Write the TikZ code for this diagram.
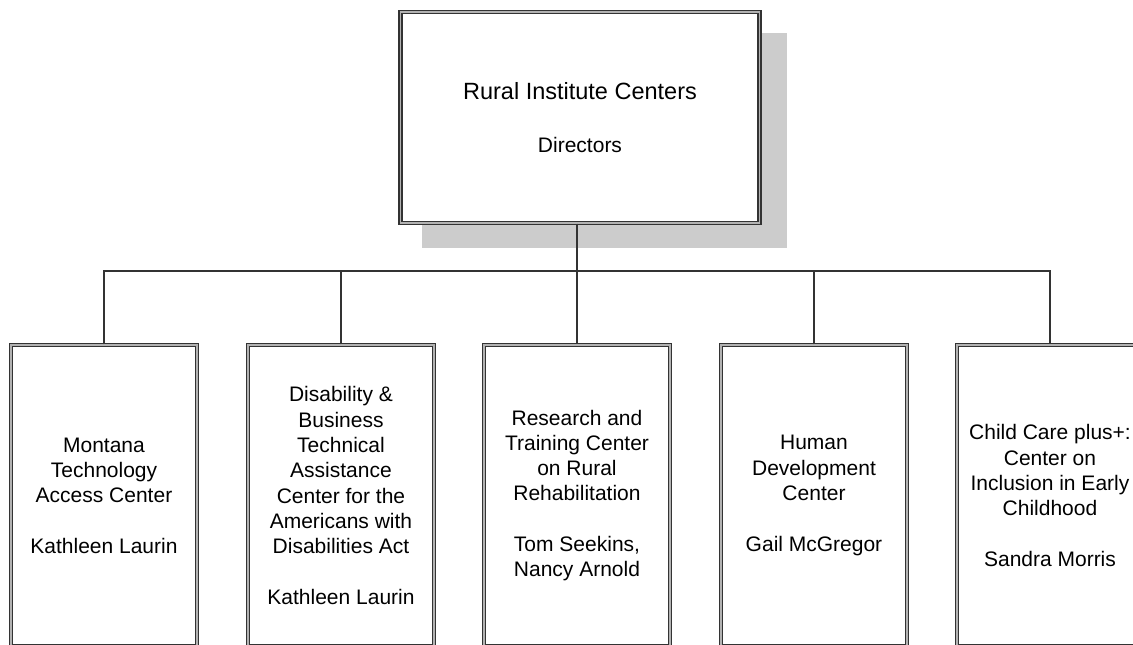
\documentclass[tikz,border=0pt]{standalone}
\usepackage{fontspec}
\setmainfont{Liberation Sans}
\usetikzlibrary{positioning}

\begin{document}
\begin{tikzpicture}[x=1pt,y=-1pt,
  box/.style={draw=black!80,line width=1.3pt,double=black!30,double distance=1.5pt,fill=white,
    minimum width=186pt,minimum height=301pt,inner sep=0pt,align=center,
    font=\fontsize{21}{25.3}\selectfont},
  topbox/.style={box,minimum width=359pt,minimum height=211pt},
  shade/.style={fill=black!20},
  link/.style={draw=black!80,line width=1.4pt}
]
  \useasboundingbox (0,0) rectangle (1133,645);
  \clip (0,0) rectangle (1133,645);

  % Directors
  \fill[shade] (422,33) rectangle (787,248);
  \node[topbox] (rural) at (580,117.5) {{\fontsize{23.5}{25.3}\selectfont Rural Institute Centers}\\[28pt]Directors};

  % Centers
  \node[box] (mtac) at (104,495.5) {Montana\\Technology\\Access Center\\[25.3pt]Kathleen Laurin};
  \node[box] (dbtac) at (341,495.5) {Disability \&\\Business\\Technical\\Assistance\\Center for the\\Americans with\\Disabilities Act\\[25.3pt]Kathleen Laurin};
  \node[box] (rtc) at (577,495.5) {Research and\\Training Center\\on Rural\\Rehabilitation\\[25.3pt]Tom Seekins,\\Nancy Arnold};
  \node[box] (hdc) at (814,495.5) {Human\\Development\\Center\\[25.3pt]Gail McGregor};
  \node[box] (ccp) at (1050,495.5) {Child Care plus+:\\Center on\\Inclusion in Early\\Childhood\\[25.3pt]Sandra Morris};

  % Lines
  \coordinate (bus) at (577,271);
  \draw[link] (rural.south -| rtc.north) -- (rtc.north);
  \draw[link] (mtac.north) |- (bus) -| (ccp.north);
  \foreach \c in {dbtac,hdc}
    \draw[link] (\c.north) -- (\c.north |- bus);
\end{tikzpicture}
\end{document}
